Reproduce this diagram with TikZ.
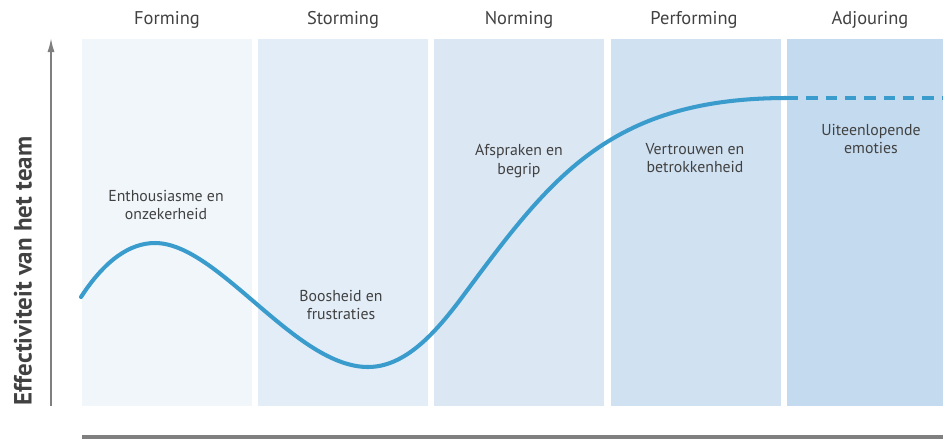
\documentclass[tikz,border=0pt]{standalone}
\usepackage{fontspec}
\setmainfont{PT Sans}
\usepackage{tikz}
\usetikzlibrary{arrows,arrows.meta,positioning}
\definecolor{fase1}{HTML}{F1F6FB}
\definecolor{fase2}{HTML}{E3EDF7}
\definecolor{fase3}{HTML}{DBE7F3}
\definecolor{fase4}{HTML}{D0E1F2}
\definecolor{fase5}{HTML}{C4DAEE}
\definecolor{curveblue}{HTML}{3A9CCC}
\definecolor{textgray}{HTML}{414141}
\definecolor{axisgray}{HTML}{7F7F7F}
\tikzstyle{every node}=[font=\fontsize{9}{10.5}\selectfont,text=textgray]
\tikzstyle{phase}=[rectangle,
                   inner sep=0pt,
                   minimum height=7.34cm,
                   minimum width=3.4cm,
                   anchor=north west]
\tikzstyle{header}=[font=\fontsize{10.5}{12}\selectfont,text=textgray]
\tikzstyle{feeling}=[align=center]
\tikzstyle{curve}=[line width=2.3pt,draw=curveblue]

\begin{document}
\begin{tikzpicture}[x=0.02cm,y=-0.02cm,>=latex']
\useasboundingbox (0,0) rectangle (943,441);
\node (P_1) [phase,fill=fase1] at (82,39) {};
\node (P_2) [phase,fill=fase2] at (258,39) {};
\node (P_3) [phase,fill=fase3] at (434,39) {};
\node (P_4) [phase,fill=fase4] at (611,39) {};
\node (P_5) [phase,fill=fase5,minimum width=3.12cm] at (787,39) {};
\node (H_1) [header] at (167,20) {Forming};
\node (H_2) [header] at (343,20) {Storming};
\node (H_3) [header] at (519,20) {Norming};
\node (H_4) [header] at (694,20) {Performing};
\node (H_5) [header] at (870,20) {Adjouring};
%\node (H_6) [header,right of=H_5] {};
\node (F_1) [feeling] at (166,205) {Enthousiasme en\\onzekerheid};
\node (F_2) [feeling] at (341,305) {Boosheid en\\frustraties};
\node (F_3) [feeling] at (519,161) {Afspraken en\\begrip};
\node (F_4) [feeling] at (695,158) {Vertrouwen en\\betrokkenheid};
\node (F_5) [feeling] at (871,139) {Uiteenlopende\\emoties};
\coordinate (y_0) at (51,406);
\coordinate (y_1) at (51,38);
\coordinate (x_0) at (82,437);
\coordinate (x_1) at (943,437);
\node (ylabel) [rotate=90,font=\fontsize{14.2}{16}\selectfont\bfseries] at (23,271) {Effectiviteit van het team};
 \draw[-{Latex[length=8pt,width=4pt]},axisgray,line width=1pt] (y_0) -- (y_1);
 \draw[axisgray,line width=1.8pt] (x_0) -- (x_1);
\coordinate (c_0) at (81,297);
\coordinate (c_1) at (155,243);
\coordinate (c_2) at (368,367);
\coordinate (c_3) at (460,300);
\coordinate (c_4) at (787,98);
\coordinate (c_5) at (943,98);
 \draw[curve,line cap=round] (c_0) .. controls (105,260) and (130,243) .. (c_1)
   .. controls (218,243) and (295,367) .. (c_2)
   .. controls (405,367) and (435,333) .. (c_3)
   .. controls (549,180) and (607,98) .. (c_4);
 \draw[curve,dash pattern=on 6.5pt off 4.5pt] (c_4) -- (c_5);
\end{tikzpicture}
\end{document}
